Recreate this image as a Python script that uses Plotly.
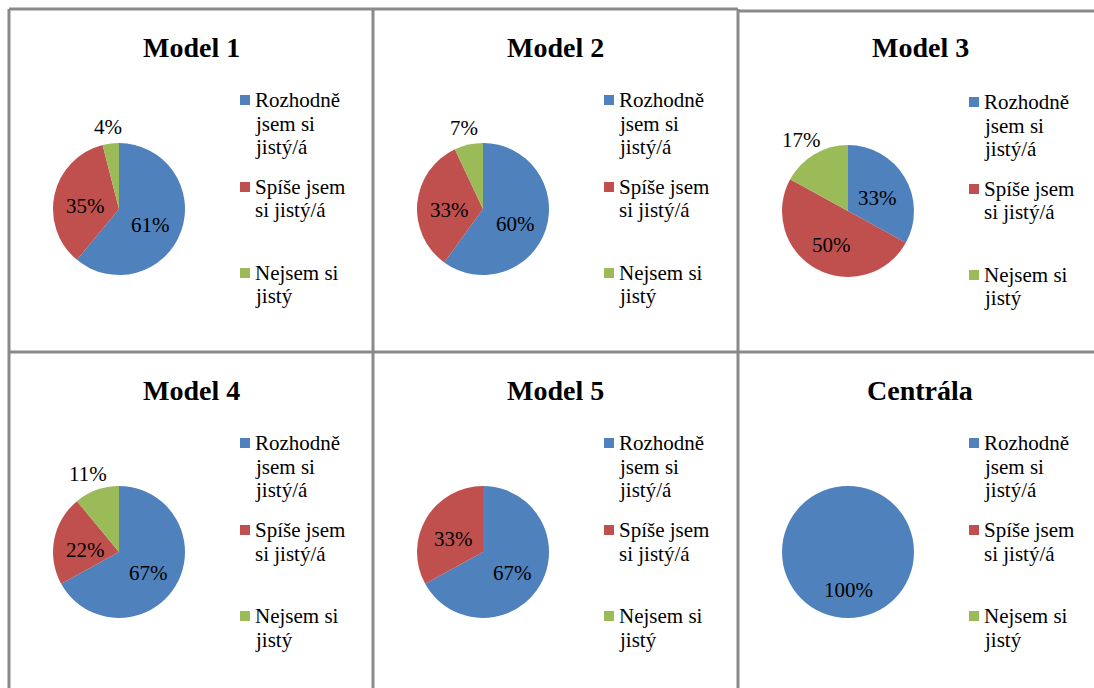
import math
import plotly.graph_objects as go

W, H = 1094, 688

# Answer categories and their wrapped legend text
categories = ["Rozhodně jsem si jistý/á", "Spíše jsem si jistý/á", "Nejsem si jistý"]
legend_lines = [["Rozhodně", "jsem si", "jistý/á"], ["Spíše jsem", "si jistý/á"], ["Nejsem si", "jistý"]]

# Panel titles and the share of answers (%) for each unit
titles = ["Model 1", "Model 2", "Model 3", "Model 4", "Model 5", "Centrála"]
model1 = [61, 35, 4]
model2 = [60, 33, 7]
model3 = [33, 50, 17]
model4 = [67, 22, 11]
model5 = [67, 33, 0]
centrala = [100, 0, 0]
series = [model1, model2, model3, model4, model5, centrala]

colors = ["#4F81BD", "#C0504D", "#9BBB59"]
FONT = "Liberation Serif"
GRID = "#8a8a8a"

# Panel geometry in pixels (left, top) for the 2x3 grid
panel_left = [9, 373, 738]
panel_top = [[9, 9, 11], [352, 352, 352]]
title_y = [47, 390]
R = 66          # pie radius in px
LABEL_SIZE = 21


def px(x):
    return x / W


def py(y):
    return 1 - y / H


def slice_labels(vals, cx, cy):
    """Place percentage labels along each slice bisector (clockwise from 12 o'clock)."""
    total = sum(vals)
    out = []
    start = 0.0
    for v in vals:
        sweep = 360.0 * v / total
        if v > 0:
            mid = math.radians(start + sweep / 2)
            ux, uy = math.sin(mid), -math.cos(mid)
            txt = f"{round(100 * v / total)}%"
            if v / total >= 0.2:
                d = 34
                x, y = cx + ux * d, cy + uy * d + 4
            else:
                w = 0.5 * LABEL_SIZE * (len(txt) - 1) + 0.83 * LABEL_SIZE
                h = LABEL_SIZE
                x = cx + ux * (R + 6) + ux * w / 2
                y = cy + uy * (R + 6) + uy * h / 2
            out.append((txt, x, y))
        start += sweep
    return out


fig = go.Figure()
annotations = []
shapes = []

for i, (title, vals) in enumerate(zip(titles, series)):
    row, col = divmod(i, 3)
    left = panel_left[col]
    top = panel_top[row][col]
    cx = left + 110
    cy = top + 200

    fig.add_trace(go.Pie(
        labels=categories,
        values=vals,
        textinfo="none",
        marker=dict(colors=colors, line=dict(width=0)),
        sort=False,
        direction="clockwise",
        rotation=0,
        showlegend=False,
        hoverinfo="label+percent",
        domain=dict(x=[px(cx - R), px(cx + R)], y=[py(cy + R), py(cy - R)]),
    ))

    # percentage data labels
    for txt, x, y in slice_labels(vals, cx, cy):
        annotations.append(dict(
            text=txt, x=px(x), y=py(y), xref="paper", yref="paper",
            xanchor="center", yanchor="middle", showarrow=False,
            font=dict(family=FONT, size=LABEL_SIZE, color="black"),
        ))

    # panel title
    annotations.append(dict(
        text=f"<b>{title}</b>", x=px(left + 182), y=py(title_y[row]),
        xref="paper", yref="paper", xanchor="center", yanchor="middle",
        showarrow=False, font=dict(family=FONT, size=28, color="black"),
    ))

    # legend: colour square + wrapped label lines
    item_y = [top + 91, top + 178, top + 264]
    for k, lines in enumerate(legend_lines):
        y0 = item_y[k]
        shapes.append(dict(
            type="rect", xref="paper", yref="paper",
            x0=px(left + 231), x1=px(left + 241),
            y0=py(y0 - 5), y1=py(y0 + 5),
            fillcolor=colors[k], line=dict(width=0),
        ))
        for j, line in enumerate(lines):
            annotations.append(dict(
                text=line, x=px(left + 244), y=py(y0 + 23.5 * j),
                xref="paper", yref="paper", xanchor="left", yanchor="middle",
                showarrow=False, font=dict(family=FONT, size=21, color="black"),
            ))

# grid lines framing the panels
grid_segments = [
    (9, 9, 9, H), (373, 9, 373, H), (738, 9, 738, H),
    (9, 9, 738, 9), (738, 11, W, 11), (9, 352, W, 352),
]
for x0, y0, x1, y1 in grid_segments:
    shapes.append(dict(
        type="line", xref="paper", yref="paper",
        x0=px(x0), y0=py(y0), x1=px(x1), y1=py(y1),
        line=dict(color=GRID, width=3),
    ))

fig.update_layout(
    width=W, height=H,
    margin=dict(l=0, r=0, t=0, b=0),
    paper_bgcolor="white", plot_bgcolor="white",
    annotations=annotations, shapes=shapes,
    font=dict(family=FONT),
)

fig.write_html("out.html")
